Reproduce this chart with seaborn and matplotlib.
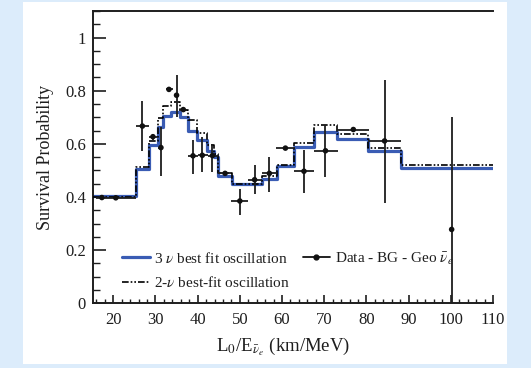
import numpy as np
import pandas as pd
import matplotlib
matplotlib.use("Agg")
import matplotlib.pyplot as plt
from matplotlib.lines import Line2D
from matplotlib.patches import Rectangle
from matplotlib.ticker import MultipleLocator, FixedLocator
import seaborn as sns

# ---- data ----
bin_edges = [15.2, 25.3, 28.5, 30.5, 31.8, 33.8, 35.8, 37.8, 39.9, 42.1, 43.8,
             44.9, 48.1, 55.2, 58.8, 62.8, 67.6, 73.1, 80.4, 88.2, 110.0]
three_nu = [0.405, 0.504, 0.594, 0.665, 0.704, 0.720, 0.700, 0.650, 0.613, 0.575,
            0.550, 0.480, 0.449, 0.466, 0.515, 0.589, 0.645, 0.617, 0.572, 0.511]
two_nu = [0.400, 0.514, 0.612, 0.697, 0.742, 0.756, 0.727, 0.690, 0.640, 0.595,
          0.560, 0.489, 0.450, 0.478, 0.520, 0.605, 0.670, 0.638, 0.586, 0.520]

data_x = [17.3, 20.6, 26.9, 29.4, 31.3, 33.2, 35.0, 36.6, 38.9, 41.1, 43.5,
          46.5, 50.0, 53.5, 57.0, 60.8, 65.2, 70.3, 76.9, 84.3, 100.2]
data_y = [0.398, 0.397, 0.667, 0.627, 0.586, 0.805, 0.783, 0.729, 0.555, 0.557, 0.556,
          0.489, 0.385, 0.465, 0.489, 0.584, 0.497, 0.574, 0.654, 0.611, 0.278]
xerr_lo = [1.5, 2.2, 1.5, 1.0, 0.6, 0.8, 0.5, 1.0, 1.2, 1.0, 1.0,
           1.6, 2.0, 1.5, 1.7, 2.3, 2.4, 2.7, 3.8, 3.9, 0.0]
xerr_hi = [1.1, 4.7, 1.6, 1.0, 0.6, 0.9, 0.5, 0.9, 1.2, 1.4, 1.4,
           1.5, 2.0, 1.8, 1.8, 2.2, 2.4, 3.0, 3.7, 3.8, 0.0]
yerr_lo = [0.006, 0.006, 0.093, 0.012, 0.107, 0.008, 0.081, 0.008, 0.070, 0.062, 0.061,
           0.008, 0.053, 0.054, 0.069, 0.008, 0.083, 0.098, 0.006, 0.233, 0.278]
yerr_hi = [0.006, 0.006, 0.095, 0.012, 0.078, 0.008, 0.075, 0.008, 0.060, 0.069, 0.044,
           0.008, 0.047, 0.055, 0.062, 0.008, 0.079, 0.096, 0.006, 0.231, 0.424]

y_ticks = [0, 0.2, 0.4, 0.6, 0.8, 1.0]
y_tick_labels = ["0", "0.2", "0.4", "0.6", "0.8", "1"]
x_ticks = [20, 30, 40, 50, 60, 70, 80, 90, 100, 110]

# ---- style ----
sns.set_theme(style="ticks")
plt.rcParams["font.family"] = ["Liberation Serif", "DejaVu Serif"]
plt.rcParams["mathtext.fontset"] = "stix"

BLUE = "#3a5cb4"
INK = "#1e1e1e"
DASH = (0, (4, 1.2, 1, 1.2, 1, 1.2))

fig = plt.figure(figsize=(5.31, 3.68), dpi=100)
fig.patch.set_facecolor("#dcecfb")
fig.patches.append(Rectangle((23 / 531, 1 - 364 / 368), (507 - 23) / 531, (364 - 2) / 368,
                             transform=fig.transFigure, facecolor="white",
                             edgecolor="none", zorder=-10))
ax = fig.add_axes([93 / 531, 1 - 303.3 / 368, 400 / 531, 292.3 / 368])
ax.set_facecolor("white")

step_df = pd.DataFrame({
    "x": bin_edges * 2,
    "y": (three_nu + [three_nu[-1]]) + (two_nu + [two_nu[-1]]),
    "model": ["3nu"] * len(bin_edges) + ["2nu"] * len(bin_edges),
})

sns.lineplot(data=step_df[step_df.model == "2nu"], x="x", y="y", ax=ax,
             drawstyle="steps-post", estimator=None, color="black", lw=1.2,
             linestyle=DASH, zorder=3)
sns.lineplot(data=step_df[step_df.model == "3nu"], x="x", y="y", ax=ax,
             drawstyle="steps-post", estimator=None, color=BLUE, lw=2.3, zorder=2)

ax.errorbar(data_x, data_y, xerr=[xerr_lo, xerr_hi], yerr=[yerr_lo, yerr_hi],
            fmt="none", ecolor=INK, elinewidth=1.3, capsize=0, zorder=4)
sns.scatterplot(x=data_x, y=data_y, ax=ax, color="#111111", s=16,
                edgecolor="none", zorder=5)

ax.set_xlim(15.2, 110)
ax.set_ylim(0, 1.1)
ax.xaxis.set_major_locator(FixedLocator(x_ticks))
ax.xaxis.set_minor_locator(MultipleLocator(2))
ax.yaxis.set_major_locator(FixedLocator(y_ticks))
ax.yaxis.set_minor_locator(MultipleLocator(0.05))
ax.set_yticklabels(y_tick_labels)

ax.tick_params(axis="x", which="major", direction="in", length=6, width=1.2,
               labelsize=12, pad=6, colors=INK)
ax.tick_params(axis="x", which="minor", direction="in", length=3, width=1.0, colors=INK)
ax.tick_params(axis="y", which="major", direction="in", length=9, width=1.2,
               labelsize=12, pad=5, colors=INK)
ax.tick_params(axis="y", which="minor", direction="in", length=4.8, width=1.0, colors=INK)

for s in ["left", "bottom", "top"]:
    ax.spines[s].set_linewidth(1.4)
    ax.spines[s].set_color(INK)
ax.spines["right"].set_visible(False)

ax.set_xlabel(r"L$_0$/E$_{\bar{\nu}_e}$ (km/MeV)", fontsize=13.5, color=INK, labelpad=6)
ax.xaxis.label.set_x(0.475)
ax.set_ylabel("Survival Probability", fontsize=13, color=INK, labelpad=8)

handles = [
    Line2D([], [], color=BLUE, lw=2.3),
    Line2D([], [], color="black", lw=1.2, linestyle=DASH),
    Line2D([], [], color="#111111", lw=1.3, marker="o", markersize=3.5),
]
labels = [r"3 $\nu$ best fit oscillation", r"2-$\nu$ best-fit oscillation",
          r"Data - BG - Geo $\bar{\nu}_e$"]
leg = ax.legend(handles, labels, loc="lower left", bbox_to_anchor=(0.058, 0.025),
                ncol=2, frameon=False, fontsize=11, handlelength=1.8,
                handletextpad=0.3, columnspacing=0.8, labelspacing=0.6,
                borderaxespad=0)
for t in leg.get_texts():
    t.set_color(INK)

fig.savefig("out.png", dpi=100, facecolor=fig.get_facecolor())
